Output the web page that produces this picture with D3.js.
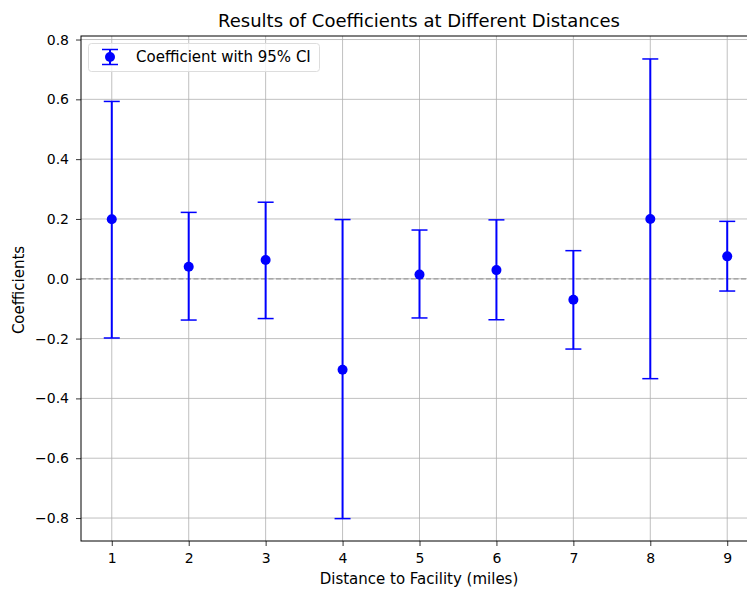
<!DOCTYPE html>
<html>
<head>
<meta charset="utf-8">
<script src="https://cdn.jsdelivr.net/npm/d3@7"></script>
<style>
  body { margin: 0; background: #fff; }
  svg { font-family: "DejaVu Sans", sans-serif; }
</style>
</head>
<body>
<svg width="747" height="590"></svg>
<script>
// distances in miles
const distances = [1, 2, 3, 4, 5, 6, 7, 8, 9];
// point estimates
const coefs = [0.199, 0.040, 0.063, -0.304, 0.014, 0.029, -0.070, 0.200, 0.075];
// 95% CI bounds
const ciLow = [-0.198, -0.138, -0.133, -0.802, -0.131, -0.137, -0.235, -0.334, -0.041];
const ciHigh = [0.593, 0.222, 0.256, 0.198, 0.163, 0.197, 0.094, 0.735, 0.192];
const yTicks = [-0.8, -0.6, -0.4, -0.2, 0.0, 0.2, 0.4, 0.6, 0.8];

const rows = distances.map((d, i) => ({ d: d, c: coefs[i], lo: ciLow[i], hi: ciHigh[i] }));

const svg = d3.select("svg");
const pLeft = 81, pRight = 758, pTop = 36, pBottom = 541;

const x = d3.scaleLinear().domain([0.6, 9.4]).range([pLeft, pRight]);
const y = d3.scaleLinear().domain([-0.8768, 0.8118]).range([pBottom, pTop]);

svg.append("defs").append("clipPath").attr("id", "plot")
  .append("rect").attr("x", pLeft).attr("y", pTop).attr("width", pRight - pLeft).attr("height", pBottom - pTop);

// grid
const grid = svg.append("g").attr("stroke", "#b0b0b0").attr("stroke-width", 0.8);
grid.selectAll(".gx").data(distances).enter().append("line")
  .attr("x1", d => x(d)).attr("x2", d => x(d))
  .attr("y1", pTop).attr("y2", pBottom);
grid.selectAll(".gy").data(yTicks).enter().append("line")
  .attr("x1", pLeft).attr("x2", pRight)
  .attr("y1", d => y(d)).attr("y2", d => y(d));

// zero reference line
svg.append("line")
  .attr("x1", pLeft).attr("x2", pRight)
  .attr("y1", y(0)).attr("y2", y(0))
  .attr("stroke", "#999").attr("stroke-width", 1.2)
  .attr("stroke-dasharray", "5,2.5");

// error bars
const eb = svg.append("g").attr("clip-path", "url(#plot)");
eb.selectAll(".bar").data(rows).enter().append("line")
  .attr("x1", d => x(d.d)).attr("x2", d => x(d.d))
  .attr("y1", d => y(d.lo)).attr("y2", d => y(d.hi))
  .attr("stroke", "blue").attr("stroke-width", 2);
["lo", "hi"].forEach(k => {
  eb.selectAll(".cap-" + k).data(rows).enter().append("line")
    .attr("x1", d => x(d.d) - 8).attr("x2", d => x(d.d) + 8)
    .attr("y1", d => y(d[k])).attr("y2", d => y(d[k]))
    .attr("stroke", "blue").attr("stroke-width", 1.5);
});
eb.selectAll("circle").data(rows).enter().append("circle")
  .attr("cx", d => x(d.d)).attr("cy", d => y(d.c))
  .attr("r", 5).attr("fill", "blue");

// axes
const xAxis = svg.append("g").attr("transform", `translate(0,${pBottom})`)
  .call(d3.axisBottom(x).tickValues(distances).tickFormat(d3.format("d")).tickSize(5).tickPadding(7));
const yAxis = svg.append("g").attr("transform", `translate(${pLeft},0)`)
  .call(d3.axisLeft(y).tickValues(yTicks).tickFormat(d => d3.format(".1f")(d).replace("-", "\u2212")).tickSize(5).tickPadding(7));
[xAxis, yAxis].forEach(a => {
  a.select(".domain").remove();
  a.selectAll("text").attr("font-size", 14).attr("fill", "#000").attr("font-family", "DejaVu Sans");
  a.selectAll("line").attr("stroke", "#000").attr("stroke-width", 0.8);
});

// spines
svg.append("rect").attr("x", pLeft).attr("y", pTop).attr("width", pRight - pLeft).attr("height", pBottom - pTop)
  .attr("fill", "none").attr("stroke", "#000").attr("stroke-width", 1);

// labels
svg.append("text").attr("x", 419).attr("y", 27).attr("text-anchor", "middle")
  .attr("font-size", 18).text("Results of Coefficients at Different Distances");
svg.append("text").attr("x", 419).attr("y", 584).attr("text-anchor", "middle")
  .attr("font-size", 15).text("Distance to Facility (miles)");
svg.append("text").attr("transform", "translate(24,290) rotate(-90)").attr("text-anchor", "middle")
  .attr("font-size", 15).text("Coefficients");

// legend
const lg = svg.append("g");
lg.append("rect").attr("x", 88.5).attr("y", 43.5).attr("width", 231).attr("height", 28).attr("rx", 3)
  .attr("fill", "#fff").attr("fill-opacity", 0.8).attr("stroke", "#ddd");
lg.append("line").attr("x1", 110).attr("x2", 110).attr("y1", 49.5).attr("y2", 64.5)
  .attr("stroke", "blue").attr("stroke-width", 2);
[49.5, 64.5].forEach(v => lg.append("line").attr("x1", 102).attr("x2", 118).attr("y1", v).attr("y2", v)
  .attr("stroke", "blue").attr("stroke-width", 1.5));
lg.append("circle").attr("cx", 110).attr("cy", 57).attr("r", 5).attr("fill", "blue");
lg.append("text").attr("x", 136).attr("y", 62).attr("font-size", 15).text("Coefficient with 95% CI");
</script>
</body>
</html>
